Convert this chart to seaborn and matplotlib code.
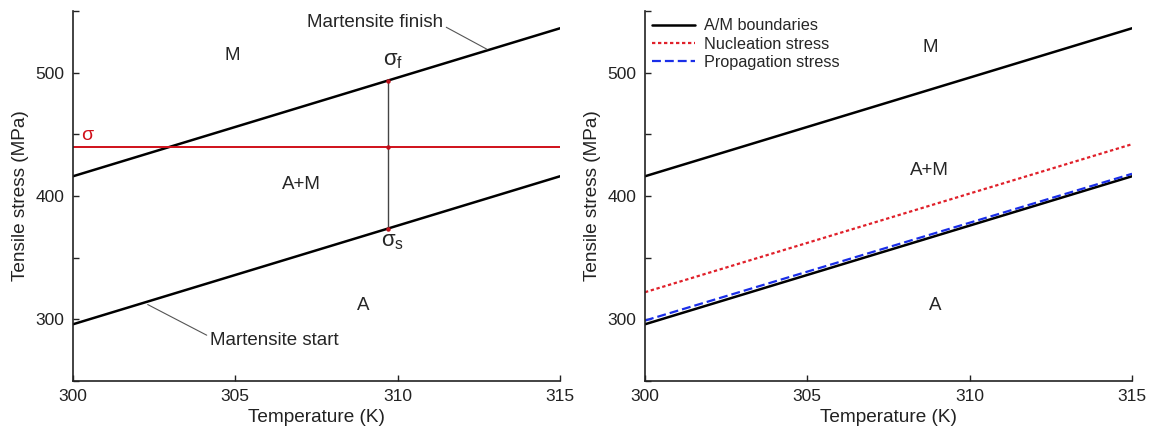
import numpy as np
import pandas as pd
import matplotlib
matplotlib.use("Agg")
import matplotlib.pyplot as plt
import seaborn as sns

# ---- data ----
temperature = [300, 315]
ms_start = [296, 416]          # martensite start boundary (MPa)
mf_finish = [416, 536]         # martensite finish boundary (MPa)
nucleation = [322, 442]        # nucleation stress (MPa)
propagation = [299, 418]       # propagation stress (MPa)
sigma_applied = 440            # applied stress (MPa)
t_probe = 309.7                # temperature of the vertical probe line
x_ticks = [300, 305, 310, 315]
y_major = [300, 400, 500]
y_all_ticks = [250, 300, 350, 400, 450, 500, 550]

sns.set_style("ticks")
plt.rcParams['font.family'] = ['Liberation Sans', 'DejaVu Sans']

fig = plt.figure(figsize=(11.51, 4.32), dpi=100)
W, H = 1151, 432
axL = fig.add_axes([73 / W, 1 - 381 / H, (560 - 73) / W, (381 - 11) / H])
axR = fig.add_axes([645 / W, 1 - 381 / H, (1132 - 645) / W, (381 - 11) / H])

df = pd.DataFrame({"T": temperature, "ms": ms_start, "mf": mf_finish,
                   "nuc": nucleation, "prop": propagation})

TXT = "#222222"


def style_axes(ax):
    ax.set_xlim(300, 315)
    ax.set_ylim(250, 550)
    ax.set_xticks(x_ticks)
    ax.set_yticks(y_all_ticks)
    ax.set_yticklabels([str(v) if v in y_major else "" for v in y_all_ticks])
    ax.tick_params(direction="in", length=4, width=1, labelsize=12.5, colors=TXT,
                   labelcolor=TXT, pad=6)
    for s in ["top", "right"]:
        ax.spines[s].set_visible(False)
    for s in ["left", "bottom"]:
        ax.spines[s].set_linewidth(1.2)
        ax.spines[s].set_color(TXT)
    ax.set_xlabel("Temperature (K)", fontsize=13.7, color=TXT, labelpad=3)
    ax.set_ylabel("Tensile stress (MPa)", fontsize=13.7, color=TXT, labelpad=5)


# ---- left panel ----
sns.lineplot(data=df, x="T", y="ms", ax=axL, color="black", lw=1.8)
sns.lineplot(data=df, x="T", y="mf", ax=axL, color="black", lw=1.8)
axL.axhline(sigma_applied, color="#d0101a", lw=1.4)
s_lo = np.interp(t_probe, temperature, ms_start)
s_hi = np.interp(t_probe, temperature, mf_finish)
axL.plot([t_probe, t_probe], [s_lo, s_hi], color="#444444", lw=1.0)
axL.plot([t_probe] * 3, [s_lo, sigma_applied, s_hi], "o", color="#c0101a", ms=2.2)
style_axes(axL)

FS = 13.5
axL.text(300.45, 449, "σ", color="#d0101a", fontsize=14, ha="center", va="center")
axL.text(309.85, 510, r"σ$_\mathregular{f}$", fontsize=16, ha="center", va="center")
axL.text(309.85, 363, r"σ$_\mathregular{s}$", fontsize=16, ha="center", va="center")
axL.text(304.9, 514, "M", fontsize=FS, ha="center", va="center")
axL.text(307.05, 409, "A+M", fontsize=FS, ha="center", va="center")
axL.text(308.93, 311, "A", fontsize=FS, ha="center", va="center")
axL.annotate("Martensite finish", xy=(312.75, 519), xytext=(309.3, 541),
             fontsize=FS, ha="center", va="center",
             arrowprops=dict(arrowstyle="-", color="#555555", lw=0.8,
                             shrinkA=0, shrinkB=0, relpos=(1.0, 0.3)))
axL.annotate("Martensite start", xy=(302.3, 312), xytext=(306.2, 283),
             fontsize=FS, ha="center", va="center",
             arrowprops=dict(arrowstyle="-", color="#555555", lw=0.8,
                             shrinkA=0, shrinkB=0, relpos=(0.0, 0.7)))

# ---- right panel ----
sns.lineplot(data=df, x="T", y="mf", ax=axR, color="black", lw=1.8)
sns.lineplot(data=df, x="T", y="ms", ax=axR, color="black", lw=1.8, label="A/M boundaries")
sns.lineplot(data=df, x="T", y="nuc", ax=axR, color="#e0202a", lw=1.6,
             linestyle=(0, (1.5, 1.2)), label="Nucleation stress")
sns.lineplot(data=df, x="T", y="prop", ax=axR, color="#1a2ee8", lw=1.6,
             linestyle=(0, (4, 1.8)), label="Propagation stress")
style_axes(axR)
axR.text(308.78, 520, "M", fontsize=FS, ha="center", va="center")
axR.text(308.75, 421, "A+M", fontsize=FS, ha="center", va="center")
axR.text(308.93, 311, "A", fontsize=FS, ha="center", va="center")
leg = axR.legend(loc="upper left", frameon=False, fontsize=11.7,
                 handlelength=2.6, labelspacing=0.2, borderaxespad=0.05,
                 handletextpad=0.55)

fig.savefig("out.png", dpi=100)
